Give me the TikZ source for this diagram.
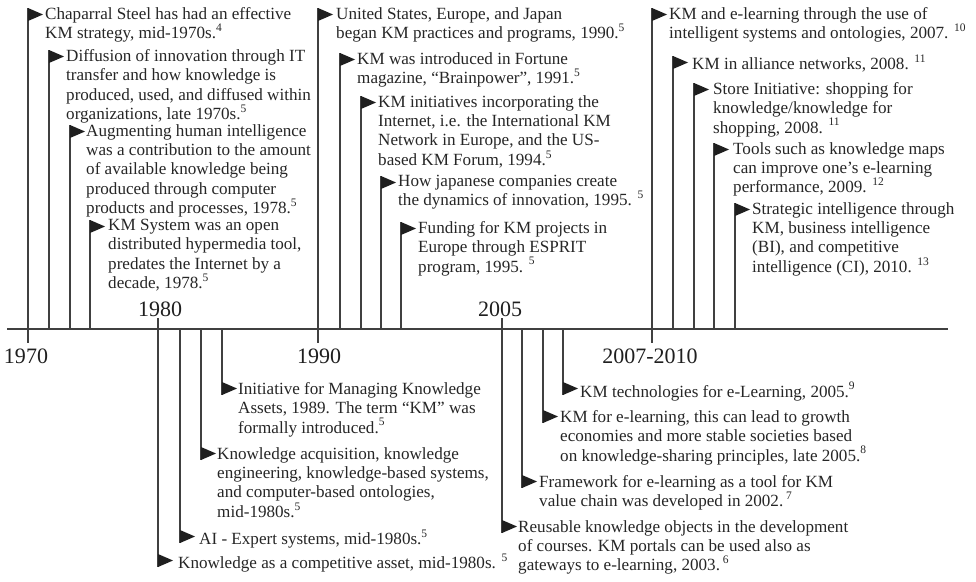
\documentclass[tikz,border=0pt]{standalone}
\usepackage{fontspec}
\setmainfont{Liberation Serif}

% reference number set as a small raised figure
\newcommand\supnum[1]{\raisebox{0.42em}{\fontsize{11.5}{11.5}\selectfont #1}}

\tikzset{
  axisline/.style={draw=black!75, line width=1.5pt},
  stem/.style={draw=black!75, line width=1.3pt},
  pennant/.style={fill=black!88},
  note/.style={inner sep=0pt, align=left, anchor=north west, text=black!85,
    font=\fontsize{17.1}{19.4}\selectfont},
  year/.style={inner sep=0pt, anchor=base, text=black!88,
    font=\fontsize{22}{22}\selectfont},
}

% flag standing above the axis: name, x, top of pennant, text x, text
\newcommand\upflag[5]{%
  \coordinate (#1b) at (#2,329);
  \coordinate (#1t) at (#2,#3);
  \draw[stem] (#1b) -- (#1t);
  \fill[pennant] (#1t) -- ++(15,6.5) -- ++(-15,6.5) -- cycle;
  \node[note] (#1) at (#4,#3-1) {#5};
}
% flag hanging below the axis: name, x, bottom of pennant, text x, text
\newcommand\downflag[5]{%
  \coordinate (#1b) at (#2,329);
  \coordinate (#1t) at (#2,#3);
  \draw[stem] (#1b) -- (#1t);
  \fill[pennant] (#1t) -- ++(15,-6.5) -- ++(-15,-6.5) -- cycle;
  \node[note] (#1) at (#4,#3-13) {#5};
}

\begin{document}
\begin{tikzpicture}[x=1pt,y=-1pt]
\useasboundingbox (0,0) rectangle (976,581);

% time axis
\coordinate (axL) at (7,329);
\coordinate (axR) at (948,329);
\draw[axisline] (axL) -- (axR);

% year ticks and labels
\coordinate (t1970) at (28,343);
\coordinate (t1980) at (158,318);
\coordinate (t1990) at (318,343);
\coordinate (t2005) at (502,318);
\coordinate (t2007) at (652,343);
\coordinate (a1970) at (28,329);
\coordinate (a1980) at (158,329);
\coordinate (a1990) at (318,329);
\coordinate (a2005) at (502,329);
\coordinate (a2007) at (652,329);
\draw[stem] (a1970) -- (t1970);
\draw[stem] (a1980) -- (t1980);
\draw[stem] (a1990) -- (t1990);
\draw[stem] (a2005) -- (t2005);
\draw[stem] (a2007) -- (t2007);
\node[year] (y1970) at (26,363) {1970};
\node[year] (y1980) at (160,316) {1980};
\node[year] (y1990) at (319,363) {1990};
\node[year] (y2005) at (500,316) {2005};
\node[year] (y2007) at (650,363) {2007-2010};

% 1970s
\upflag{a1}{28}{8}{45}{Chaparral Steel has had an effective\\KM strategy, mid-1970s.\supnum{4}}
\upflag{a2}{49}{50}{66}{Diffusion of innovation through IT\\transfer and how knowledge is\\produced, used, and diffused within\\organizations, late 1970s.\supnum{5}}
\upflag{a3}{70}{125}{86}{Augmenting human intelligence\\was a contribution to the amount\\of available knowledge being\\produced through computer\\products and processes, 1978.\supnum{5}}
\upflag{a4}{90}{220}{108}{KM System was an open\\distributed hypermedia tool,\\predates the Internet by a\\decade, 1978.\supnum{5}}

% 1990s
\upflag{b1}{318}{8}{336}{United States, Europe, and Japan\\began KM practices and programs, 1990.\supnum{5}}
\upflag{b2}{340}{53}{357}{KM was introduced in Fortune\\magazine, “Brainpower”, 1991.\supnum{5}}
\upflag{b3}{361}{96}{378}{KM initiatives incorporating the\\Internet, i.e. the International KM\\Network in Europe, and the US-\\based KM Forum, 1994.\supnum{5}}
\upflag{b4}{381}{176}{398}{How japanese companies create\\the dynamics of innovation, 1995. \supnum{5}}
\upflag{b5}{401}{222}{418}{Funding for KM projects in\\Europe through ESPRIT\\program, 1995. \supnum{5}}

% 2007-2010
\upflag{c1}{652}{8}{669}{KM and e-learning through the use of\\intelligent systems and ontologies, 2007. \supnum{10}}
\upflag{c2}{673}{56}{692}{KM in alliance networks, 2008. \supnum{11}}
\upflag{c3}{694}{83}{713}{Store Initiative: shopping for\\knowledge/knowledge for\\shopping, 2008. \supnum{11}}
\upflag{c4}{714}{143}{733}{Tools such as knowledge maps\\can improve one’s e-learning\\performance, 2009. \supnum{12}}
\upflag{c5}{735}{203}{752}{Strategic intelligence through\\KM, business intelligence\\(BI), and competitive\\intelligence (CI), 2010. \supnum{13}}

% 1980s
\downflag{d1}{158}{567}{178}{Knowledge as a competitive asset, mid-1980s. \supnum{5}}
\downflag{d2}{180}{543}{199}{AI - Expert systems, mid-1980s.\supnum{5}}
\downflag{d3}{201}{460}{217}{Knowledge acquisition, knowledge\\engineering, knowledge-based systems,\\and computer-based ontologies,\\mid-1980s.\supnum{5}}
\downflag{d4}{222}{395}{238}{Initiative for Managing Knowledge\\Assets, 1989. The term “KM” was\\formally introduced.\supnum{5}}

% 2000s
\downflag{e1}{502}{533}{518}{Reusable knowledge objects in the development\\of courses. KM portals can be used also as\\gateways to e-learning, 2003.\,\supnum{6}}
\downflag{e2}{522}{488}{539}{Framework for e-learning as a tool for KM\\value chain was developed in 2002.\,\supnum{7}}
\downflag{e3}{543}{423}{560}{KM for e-learning, this can lead to growth\\economies and more stable societies based\\on knowledge-sharing principles, late 2005.\supnum{8}}
\downflag{e4}{563}{395}{580}{KM technologies for e-Learning, 2005.\supnum{9}}
\end{tikzpicture}
\end{document}
